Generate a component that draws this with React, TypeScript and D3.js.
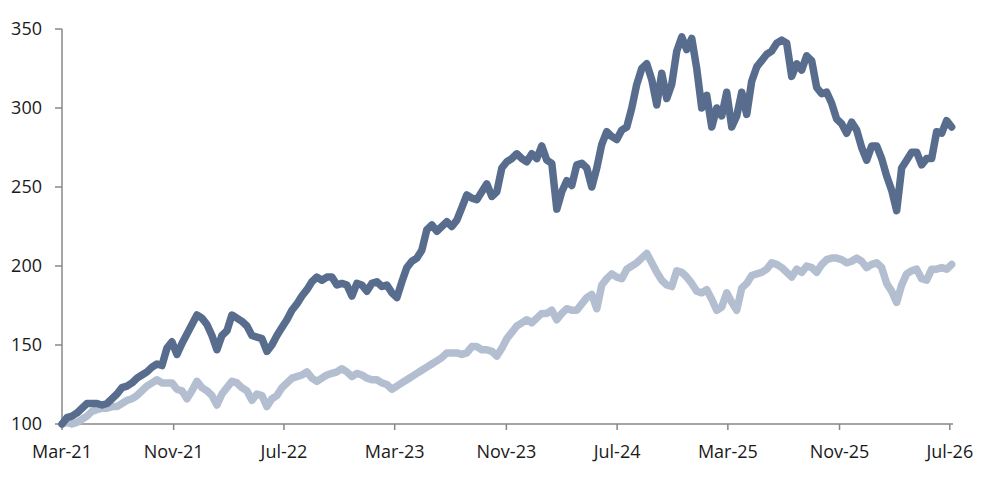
import React, { useEffect, useRef } from 'react';
import * as d3 from 'd3';

// series sampled roughly every 11 days, Mar-21 to early Jul-26
const darkSeries = [
  100, 104, 105, 107, 110, 113, 113, 113, 112, 113, 116, 119, 123, 124, 126, 129, 131, 133, 136, 138,
  137, 148, 152, 144, 151, 157, 163, 169, 167, 163, 156, 147, 156, 159, 169, 167, 165, 162, 156, 155,
  154, 146, 150, 156, 161, 166, 172, 176, 181, 185, 190, 193, 191, 193, 193, 188, 189, 188, 181, 189,
  188, 184, 189, 190, 187, 188, 183, 180, 190, 199, 203, 205, 210, 223, 226, 222, 225, 228, 225, 229,
  237, 245, 243, 242, 247, 252, 244, 247, 262, 266, 268, 271, 268, 266, 271, 268, 276, 267, 265, 236,
  247, 254, 251, 264, 265, 262, 250, 262, 277, 285, 282, 280, 286, 288, 300, 315, 325, 328, 318, 302,
  322, 306, 315, 336, 345, 337, 344, 325, 300, 308, 288, 300, 295, 310, 288, 295, 310, 296, 317, 326,
  330, 334, 336, 341, 343, 341, 320, 328, 324, 333, 330, 313, 309, 310, 303, 293, 290, 284, 291, 286,
  275, 267, 276, 276, 268, 257, 248, 235, 262, 267, 272, 272, 264, 268, 268, 285, 284, 292, 288,
];

const lightSeries = [
  100, 101, 100, 101, 103, 105, 108, 109, 110, 110, 111, 111, 113, 115, 116, 118, 121, 124, 126, 128,
  126, 126, 126, 122, 121, 116, 121, 127, 123, 121, 118, 112, 119, 123, 127, 126, 123, 121, 115, 119,
  118, 111, 116, 118, 123, 126, 129, 130, 131, 133, 129, 127, 129, 131, 132, 133, 135, 133, 130, 132,
  131, 129, 128, 128, 126, 125, 122, 124, 126, 128, 130, 132, 134, 136, 138, 140, 142, 145, 145, 145,
  144, 145, 149, 149, 147, 147, 146, 143, 148, 154, 158, 162, 164, 166, 164, 167, 170, 170, 172, 166,
  170, 173, 172, 172, 176, 180, 182, 173, 188, 192, 195, 193, 192, 198, 200, 202, 205, 208, 202, 196,
  191, 188, 187, 197, 196, 193, 189, 184, 183, 185, 179, 172, 174, 183, 177, 172, 186, 189, 194, 195,
  196, 198, 202, 201, 199, 196, 193, 198, 196, 200, 199, 196, 201, 204, 205, 205, 204, 202, 203, 205,
  203, 199, 201, 202, 199, 189, 184, 177, 188, 195, 197, 198, 192, 191, 198, 198, 199, 198, 201,
];

const xTickLabels = ['Mar-21', 'Nov-21', 'Jul-22', 'Mar-23', 'Nov-23', 'Jul-24', 'Mar-25', 'Nov-25', 'Jul-26'];
const yTicks = [100, 150, 200, 250, 300, 350];

const startDate = new Date(2021, 2, 1);
const lastDate = new Date(2026, 6, 5);
const axisEnd = new Date(2026, 6, 8);

const App: React.FC = () => {
  const svgRef = useRef<SVGSVGElement>(null);

  useEffect(() => {
    if (!svgRef.current) return;
    const svg = d3.select(svgRef.current);
    svg.selectAll('*').remove();

    const left = 62;
    const right = 953;
    const top = 29;
    const bottom = 424;

    const n = darkSeries.length;
    const span = lastDate.getTime() - startDate.getTime();
    const dates = darkSeries.map((_, i) => new Date(startDate.getTime() + (span * i) / (n - 1)));

    const x = d3.scaleTime().domain([startDate, axisEnd]).range([left, right]);
    const y = d3.scaleLinear().domain([100, 350]).range([bottom, top]);

    const tickDates = xTickLabels.map((_, i) => d3.timeMonth.offset(startDate, i * 8));

    const axisColor = '#878787';
    const font = '"Open Sans", sans-serif';

    // axes
    svg.append('line')
      .attr('x1', left).attr('x2', left)
      .attr('y1', top).attr('y2', bottom)
      .attr('stroke', axisColor).attr('stroke-width', 1.5);
    svg.append('line')
      .attr('x1', left).attr('x2', right)
      .attr('y1', bottom).attr('y2', bottom)
      .attr('stroke', axisColor).attr('stroke-width', 1.5);

    yTicks.forEach((t) => {
      svg.append('line')
        .attr('x1', left - 7).attr('x2', left)
        .attr('y1', y(t)).attr('y2', y(t))
        .attr('stroke', axisColor).attr('stroke-width', 1.5);
      svg.append('text')
        .attr('x', 42).attr('y', y(t))
        .attr('dy', '0.35em')
        .attr('text-anchor', 'end')
        .attr('font-family', font)
        .attr('font-size', 18)
        .attr('fill', '#1a1a1a')
        .text(t);
    });

    tickDates.forEach((d, i) => {
      svg.append('line')
        .attr('x1', x(d)).attr('x2', x(d))
        .attr('y1', bottom).attr('y2', bottom + 6)
        .attr('stroke', axisColor).attr('stroke-width', 1.5);
      svg.append('text')
        .attr('x', x(d)).attr('y', 458)
        .attr('text-anchor', 'middle')
        .attr('font-family', font)
        .attr('font-size', 18)
        .attr('fill', '#1a1a1a')
        .text(xTickLabels[i]);
    });

    const line = d3.line<number>()
      .x((_, i) => x(dates[i]))
      .y((v) => y(v));

    svg.append('path')
      .datum(lightSeries)
      .attr('d', line)
      .attr('fill', 'none')
      .attr('stroke', '#b3bfd0')
      .attr('stroke-width', 7.5)
      .attr('stroke-linejoin', 'round')
      .attr('stroke-linecap', 'round');

    svg.append('path')
      .datum(darkSeries)
      .attr('d', line)
      .attr('fill', 'none')
      .attr('stroke', '#586d8e')
      .attr('stroke-width', 7.5)
      .attr('stroke-linejoin', 'round')
      .attr('stroke-linecap', 'round');
  }, []);

  return (
    <div style={{ position: 'absolute', left: 0, top: 0 }}>
      <svg ref={svgRef} width={1003} height={480} style={{ display: 'block', background: '#fff' }} />
    </div>
  );
};

export default App;
